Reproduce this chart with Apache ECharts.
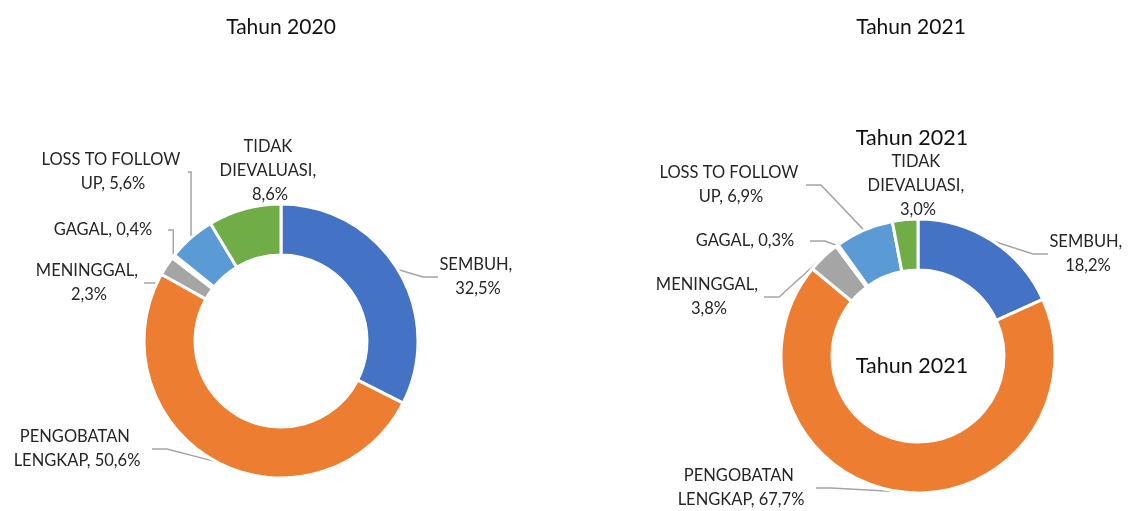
<!DOCTYPE html>
<html>
<head>
<meta charset="utf-8">
<script src="https://cdn.jsdelivr.net/npm/echarts@6/dist/echarts.min.js"></script>
<style>
  html, body { margin: 0; padding: 0; background: #fff; }
  #chart { width: 1132px; height: 511px; }
</style>
</head>
<body>
<div id="chart"></div>
<script>
// categories (clockwise from the top)
var categories = ['SEMBUH', 'PENGOBATAN LENGKAP', 'MENINGGAL', 'GAGAL', 'LOSS TO FOLLOW UP', 'TIDAK DIEVALUASI'];
// percentages per year
var values2020 = [32.5, 50.6, 2.3, 0.4, 5.6, 8.6];
var values2021 = [18.2, 67.7, 3.8, 0.3, 6.9, 3.0];
var years = ['Tahun 2020', 'Tahun 2021'];

var colors = ['#4472C4', '#ED7D31', '#A5A5A5', '#FFC000', '#5B9BD5', '#70AD47'];
var fontFamily = 'Lato, "Open Sans", sans-serif';

// label anchor positions and wrap widths (layout only)
var labelSpots = [
    [[478, 277], [77, 449], [89, 283], [103, 230], [113, 172], [270, 171]],
    [[1088, 254], [741, 488], [709, 297], [745, 241], [731, 185], [918, 186]]
];
var labelWidths = [80, 150, 110, 130, 150, 110];

function fmt(v) {
    return v.toFixed(1).replace('.', ',') + '%';
}

function buildData(vals) {
    return categories.map(function (name, i) {
        return { name: name, value: vals[i], itemStyle: { color: colors[i] },
                 label: { width: labelWidths[i] } };
    });
}

function pieSeries(vals, center, idx) {
    return {
        type: 'pie',
        center: center,
        radius: [86, 137],
        startAngle: 90,
        clockwise: true,
        avoidLabelOverlap: false,
        animation: false,
        itemStyle: { borderColor: '#fff', borderWidth: 3 },
        label: {
            show: true,
            position: 'outside',
            formatter: function (p) { return p.name + ', ' + fmt(p.value); },
            fontFamily: fontFamily,
            fontSize: 16.5,
            lineHeight: 24,
            color: '#262626',
            overflow: 'break',
            align: 'center'
        },
        labelLine: {
            show: true,
            length: 15,
            length2: 15,
            lineStyle: { color: '#A5A5A5', width: 1.5 }
        },
        labelLayout: function (params) {
            var s = labelSpots[idx][params.dataIndex];
            return { x: s[0], y: s[1], align: 'center', verticalAlign: 'middle' };
        },
        data: buildData(vals)
    };
}

var myChart = echarts.init(document.getElementById('chart'));

var titleStyle = { fontFamily: fontFamily, fontSize: 21, fontWeight: 'normal', color: '#111' };
var extraStyle = { fontFamily: fontFamily, fontSize: 21.5, fontWeight: 'normal', color: '#111' };

var option = {
    backgroundColor: '#fff',
    title: [
        { text: years[0], left: 276, top: 12, textAlign: 'center', textStyle: titleStyle },
        { text: years[1], left: 906, top: 12, textAlign: 'center', textStyle: titleStyle },
        { text: years[1], left: 907, top: 122, textAlign: 'center', textStyle: extraStyle },
        { text: years[1], left: 907, top: 350, textAlign: 'center', textStyle: extraStyle }
    ],
    series: [
        pieSeries(values2020, [281, 341], 0),
        pieSeries(values2021, [918, 356], 1)
    ]
};

myChart.setOption(option);
</script>
</body>
</html>
